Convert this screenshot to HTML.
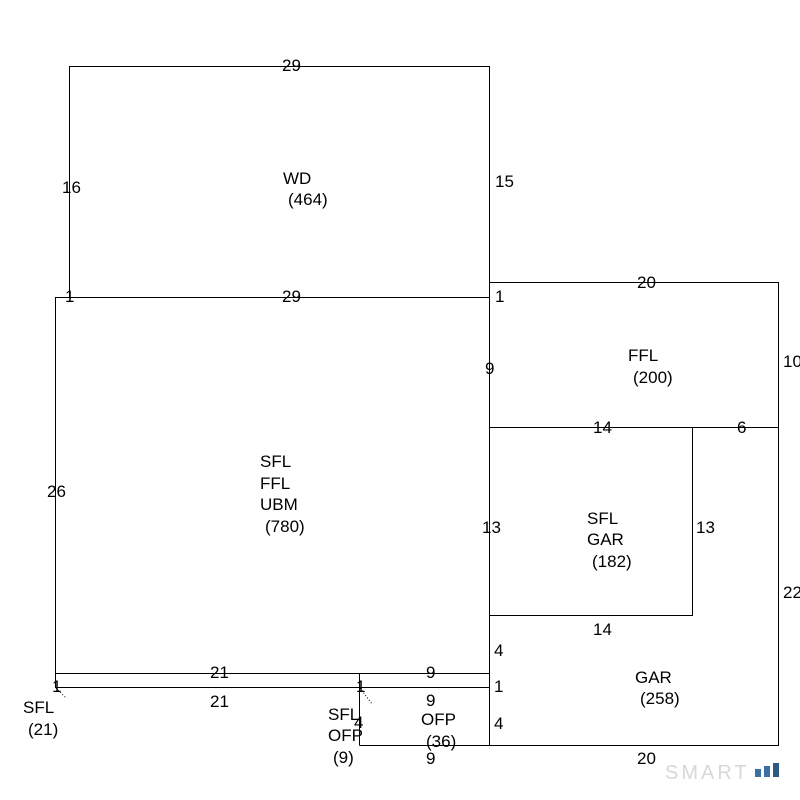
<!DOCTYPE html>
<html><head><style>
html,body{margin:0;padding:0;background:#fff;}
svg{display:block;}
text{font-family:"Liberation Sans",Arial,sans-serif;font-size:17px;fill:#000;}
</style></head><body>
<svg width="800" height="800" viewBox="0 0 800 800" xmlns="http://www.w3.org/2000/svg">
<g fill="none" stroke="#000" stroke-width="1">
<rect x="69.5" y="66.5" width="420" height="231"/>
<rect x="55.5" y="297.5" width="434" height="376"/>
<rect x="55.5" y="673.5" width="434" height="14"/>
<line x1="359.5" y1="673.5" x2="359.5" y2="745.5"/>
<line x1="359.5" y1="745.5" x2="489.5" y2="745.5"/>
<rect x="489.5" y="282.5" width="289" height="145"/>
<rect x="489.5" y="427.5" width="203" height="188"/>
<rect x="489.5" y="427.5" width="289" height="318"/>
<line x1="56" y1="688" x2="66" y2="698" stroke-dasharray="1,2"/>
<line x1="360" y1="688" x2="372" y2="704" stroke-dasharray="1,2"/>
</g>
<text x="282" y="71">29</text>
<text x="62" y="193">16</text>
<text x="495" y="187">15</text>
<text x="283" y="184">WD</text>
<text x="288" y="205">(464)</text>
<text x="65" y="302">1</text>
<text x="282" y="302">29</text>
<text x="495" y="302">1</text>
<text x="637" y="288">20</text>
<text x="485" y="374">9</text>
<text x="783" y="367">10</text>
<text x="628" y="361">FFL</text>
<text x="633" y="383">(200)</text>
<text x="593" y="433">14</text>
<text x="737" y="433">6</text>
<text x="47" y="497">26</text>
<text x="260" y="467">SFL</text>
<text x="260" y="489">FFL</text>
<text x="260" y="510">UBM</text>
<text x="265" y="532">(780)</text>
<text x="482" y="533">13</text>
<text x="696" y="533">13</text>
<text x="587" y="524">SFL</text>
<text x="587" y="545">GAR</text>
<text x="592" y="567">(182)</text>
<text x="783" y="598">22</text>
<text x="593" y="635">14</text>
<text x="494" y="656">4</text>
<text x="210" y="678">21</text>
<text x="426" y="678">9</text>
<text x="494" y="692">1</text>
<text x="52" y="692">1</text>
<text x="356" y="692">1</text>
<text x="635" y="683">GAR</text>
<text x="640" y="704">(258)</text>
<text x="210" y="707">21</text>
<text x="426" y="706">9</text>
<text x="23" y="713">SFL</text>
<text x="28" y="735">(21)</text>
<text x="328" y="720">SFL</text>
<text x="328" y="741">OFP</text>
<text x="354" y="728">4</text>
<text x="333" y="763">(9)</text>
<text x="421" y="725">OFP</text>
<text x="426" y="747">(36)</text>
<text x="494" y="729">4</text>
<text x="426" y="764">9</text>
<text x="637" y="764">20</text>
<text x="665" y="779" style="font-size:20px;fill:#d8d8d8;letter-spacing:3px">SMART</text>
<rect x="755" y="769" width="6" height="8" fill="#3a6ea5"/>
<rect x="764" y="766" width="6" height="11" fill="#3a6ea5"/>
<rect x="773" y="763" width="6" height="14" fill="#2d5a82"/>
</svg>
</body></html>
